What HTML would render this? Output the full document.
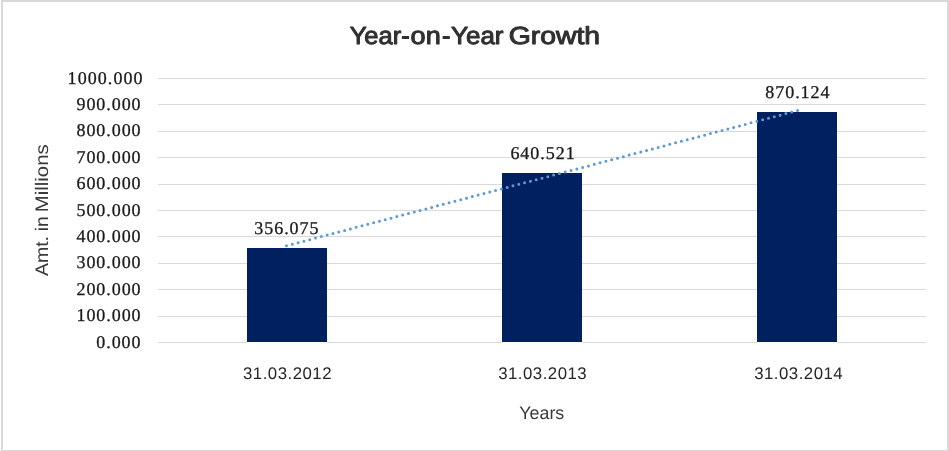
<!DOCTYPE html>
<html lang="en">
<head>
<meta charset="utf-8">
<title>Year-on-Year Growth</title>
<style>
html,body{margin:0;padding:0;background:#fff;overflow:hidden;}
svg{display:block;}
text{text-rendering:geometricPrecision;}
.sans{font-family:"Liberation Sans",sans-serif;}
.serif{font-family:"Liberation Serif",serif;}
</style>
</head>
<body>
<svg width="949" height="451" viewBox="0 0 949 451">
  <rect x="0" y="0" width="949" height="451" fill="#ffffff"/>
  <!-- frame -->
  <g fill="#d9d9d9" shape-rendering="crispEdges">
    <rect x="1" y="0" width="948" height="2"/>
    <rect x="1" y="0" width="2" height="451"/>
    <rect x="947" y="0" width="2" height="451"/>
    <rect x="1" y="450" width="948" height="1"/>
  </g>
  <!-- gridlines -->
  <g fill="#d9d9d9" shape-rendering="crispEdges">
    <rect x="158" y="78" width="768" height="1"/>
    <rect x="158" y="104" width="768" height="1"/>
    <rect x="158" y="131" width="768" height="1"/>
    <rect x="158" y="157" width="768" height="1"/>
    <rect x="158" y="184" width="768" height="1"/>
    <rect x="158" y="210" width="768" height="1"/>
    <rect x="158" y="236" width="768" height="1"/>
    <rect x="158" y="263" width="768" height="1"/>
    <rect x="158" y="289" width="768" height="1"/>
    <rect x="158" y="316" width="768" height="1"/>
    <rect x="158" y="342" width="768" height="1"/>
  </g>
  <!-- bars -->
  <g fill="#002060" shape-rendering="crispEdges">
    <rect x="247" y="248" width="80" height="94"/>
    <rect x="502" y="173" width="80" height="169"/>
    <rect x="757" y="112" width="80" height="230"/>
  </g>
  <g fill="#fcfcfa" shape-rendering="crispEdges">
    <rect x="247" y="342" width="80" height="1"/>
    <rect x="502" y="342" width="80" height="1"/>
    <rect x="757" y="342" width="80" height="1"/>
  </g>
  <!-- trendline -->
  <line x1="286.5" y1="245.8" x2="797.7" y2="110.5" stroke="#5b9bd5" stroke-width="3" stroke-linecap="round" stroke-dasharray="0 6.007"/>
  <!-- title -->
  <text class="sans" y="43.8" font-size="24.6" fill="#303030" stroke="#303030" stroke-width="1" stroke-linejoin="round"><tspan x="349.69" textLength="51.52" lengthAdjust="spacingAndGlyphs">Year</tspan><tspan x="401.16" textLength="8.46" lengthAdjust="spacingAndGlyphs">-</tspan><tspan x="410.6" textLength="30.12" lengthAdjust="spacingAndGlyphs">on</tspan><tspan x="442.06" textLength="8.46" lengthAdjust="spacingAndGlyphs">-</tspan><tspan x="451.09" textLength="52.43" lengthAdjust="spacingAndGlyphs">Year</tspan> <tspan x="508.72" textLength="91.41" lengthAdjust="spacingAndGlyphs">Growth</tspan></text>
  <!-- y axis labels -->
  <g class="serif" font-size="18" fill="#1a1a1a" stroke="#1a1a1a" stroke-width="0.3" letter-spacing="0.93">
    <text x="67.6" y="84" letter-spacing="1.06">1000.000</text>
    <text x="76.5" y="110">900.000</text>
    <text x="76.5" y="136">800.000</text>
    <text x="76.5" y="163">700.000</text>
    <text x="76.5" y="189">600.000</text>
    <text x="76.5" y="216">500.000</text>
    <text x="76.5" y="242">400.000</text>
    <text x="76.5" y="268">300.000</text>
    <text x="76.5" y="295">200.000</text>
    <text x="76.5" y="321">100.000</text>
    <text x="96.3" y="348">0.000</text>
  </g>
  <!-- data labels -->
  <g class="serif" font-size="18" fill="#1a1a1a" stroke="#1a1a1a" stroke-width="0.3" letter-spacing="0.98">
    <text x="254.2" y="233.8">356.075</text>
    <text x="510.4" y="158.9">640.521</text>
    <text x="765.2" y="98.2">870.124</text>
  </g>
  <!-- category labels -->
  <g class="sans" font-size="16.8" fill="#262626" letter-spacing="0.5">
    <text x="243" y="379">31.03.2012</text>
    <text x="498.2" y="379">31.03.2013</text>
    <text x="754.2" y="379">31.03.2014</text>
  </g>
  <!-- axis titles -->
  <text class="sans" x="519.3" y="419" font-size="18.2" fill="#3a3a3a" textLength="45" lengthAdjust="spacingAndGlyphs">Years</text>
  <text class="sans" transform="translate(47.9 276.4) rotate(-90)" font-size="18.2" fill="#3a3a3a"><tspan x="0.4" textLength="40" lengthAdjust="spacingAndGlyphs">Amt.</tspan> <tspan x="45.1" textLength="15" lengthAdjust="spacingAndGlyphs">in</tspan> <tspan x="64.2" textLength="67.9" lengthAdjust="spacingAndGlyphs">Millions</tspan></text>
</svg>
</body>
</html>
